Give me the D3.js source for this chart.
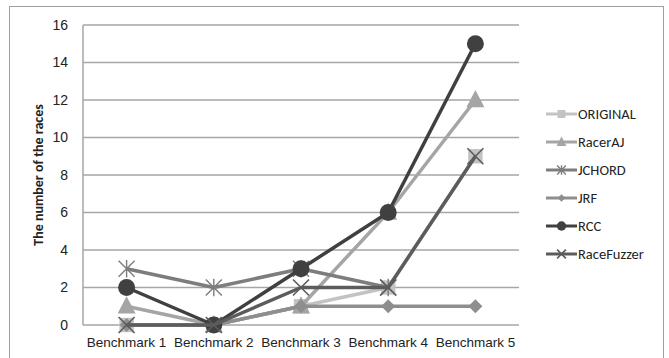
<!DOCTYPE html>
<html><head><meta charset="utf-8">
<script src="https://cdn.jsdelivr.net/npm/d3@7"></script>
<style>body{margin:0;background:#fff;}svg{display:block;font-family:Carlito,Lato,"Open Sans",sans-serif;}</style>
</head><body>
<svg id="c" width="669" height="358"></svg>
<script>
const categories = ["Benchmark 1","Benchmark 2","Benchmark 3","Benchmark 4","Benchmark 5"];
const yTicks = [0,2,4,6,8,10,12,14,16];
const seriesNames = ["ORIGINAL","RacerAJ","JCHORD","JRF","RCC","RaceFuzzer"];
const original   = [0,0,1,2,9];
const racerAJ    = [1,0,1,6,12];
const jchord     = [3,2,3,2,null];
const jrf        = [0,0,1,1,1];
const rcc        = [2,0,3,6,15];
const raceFuzzer = [0,0,2,2,9];
const seriesValues = [original,racerAJ,jchord,jrf,rcc,raceFuzzer];
const colors = ["#c3c3c3","#a5a5a5","#7d7d7d","#8e8e8e","#404040","#5c5c5c"];
const markers = ["square","triangle","asterisk","diamond","circle","cross"];

const svg = d3.select("#c");
svg.append("rect").attr("x",9.5).attr("y",6.5).attr("width",654).attr("height",360)
  .attr("fill","none").attr("stroke","#a0a0a0").attr("stroke-width",1);

const L=83,R=519,T=25,B=325;
const x = d3.scaleBand().domain(categories).range([L,R]);
const y = d3.scaleLinear().domain([0,16]).range([B,T]);

svg.append("g").selectAll("line").data(yTicks).join("line")
  .attr("x1",L).attr("x2",R).attr("y1",d=>y(d)).attr("y2",d=>y(d))
  .attr("stroke","#a6a6a6").attr("stroke-width",1.5);
svg.append("line").attr("x1",L).attr("x2",L).attr("y1",T).attr("y2",B)
  .attr("stroke","#a6a6a6").attr("stroke-width",1.5);

const yAxis = svg.append("g").attr("transform",`translate(${L},0)`)
  .call(d3.axisLeft(y).tickValues(yTicks).tickSize(0).tickPadding(15));
yAxis.select(".domain").remove();
yAxis.selectAll("text").attr("font-size",14).attr("fill","#222").style("font-family","inherit");

const xAxis = svg.append("g").attr("transform",`translate(0,${B})`)
  .call(d3.axisBottom(x).tickSize(0).tickPadding(12));
xAxis.select(".domain").remove();
xAxis.selectAll("text").attr("font-size",13.5).attr("fill","#222").style("font-family","inherit");

svg.append("text").attr("transform",`translate(43,${(T+B)/2}) rotate(-90)`)
  .attr("text-anchor","middle").attr("font-size",14).attr("font-weight","bold").attr("fill","#222")
  .text("The number of the races");

const cx = d=>x(d)+x.bandwidth()/2;

function drawMarker(g,type,px,py,c,s){
  if(type==="square"){
    g.append("rect").attr("x",px-s*0.9).attr("y",py-s*0.9).attr("width",s*1.8).attr("height",s*1.8).attr("fill",c);
  } else if(type==="triangle"){
    g.append("path").attr("d",`M${px},${py-s*1.1}L${px+s},${py+s*0.8}L${px-s},${py+s*0.8}Z`).attr("fill",c);
  } else if(type==="diamond"){
    g.append("path").attr("d",`M${px},${py-s}L${px+s},${py}L${px},${py+s}L${px-s},${py}Z`).attr("fill",c);
  } else if(type==="circle"){
    g.append("circle").attr("cx",px).attr("cy",py).attr("r",s).attr("fill",c);
  } else if(type==="asterisk"){
    const p=`M${px-s},${py-s}L${px+s},${py+s}M${px-s},${py+s}L${px+s},${py-s}M${px},${py-s*1.1}L${px},${py+s*1.1}`;
    g.append("path").attr("d",p).attr("stroke",c).attr("stroke-width",1.4).attr("fill","none");
  } else if(type==="cross"){
    const p=`M${px-s},${py-s}L${px+s},${py+s}M${px-s},${py+s}L${px+s},${py-s}`;
    g.append("path").attr("d",p).attr("stroke",c).attr("stroke-width",1.6).attr("fill","none");
  }
}
const mSize = {square:8,triangle:9,asterisk:8,diamond:7,circle:8.5,cross:8};

seriesValues.forEach((vals,i)=>{
  const g = svg.append("g");
  const line = d3.line().defined(d=>d.v!==null).x(d=>cx(d.c)).y(d=>y(d.v));
  const pts = vals.map((v,j)=>({c:categories[j],v}));
  g.append("path").attr("d",line(pts)).attr("fill","none").attr("stroke",colors[i])
    .attr("stroke-width",3.5).attr("stroke-linejoin","round");
  pts.filter(p=>p.v!==null).forEach(p=>drawMarker(g,markers[i],cx(p.c),y(p.v),colors[i],mSize[markers[i]]));
});

const leg = svg.append("g");
seriesNames.forEach((n,i)=>{
  const ly = 114 + i*28;
  const g = leg.append("g");
  g.append("line").attr("x1",546).attr("x2",577).attr("y1",ly).attr("y2",ly).attr("stroke",colors[i]).attr("stroke-width",3);
  drawMarker(g,markers[i],561.5,ly,colors[i],mSize[markers[i]]*0.55);
  g.append("text").attr("x",578).attr("y",ly).attr("dy","0.35em").attr("font-size",14.5).attr("fill","#222").text(n);
});
</script>
</body></html>
